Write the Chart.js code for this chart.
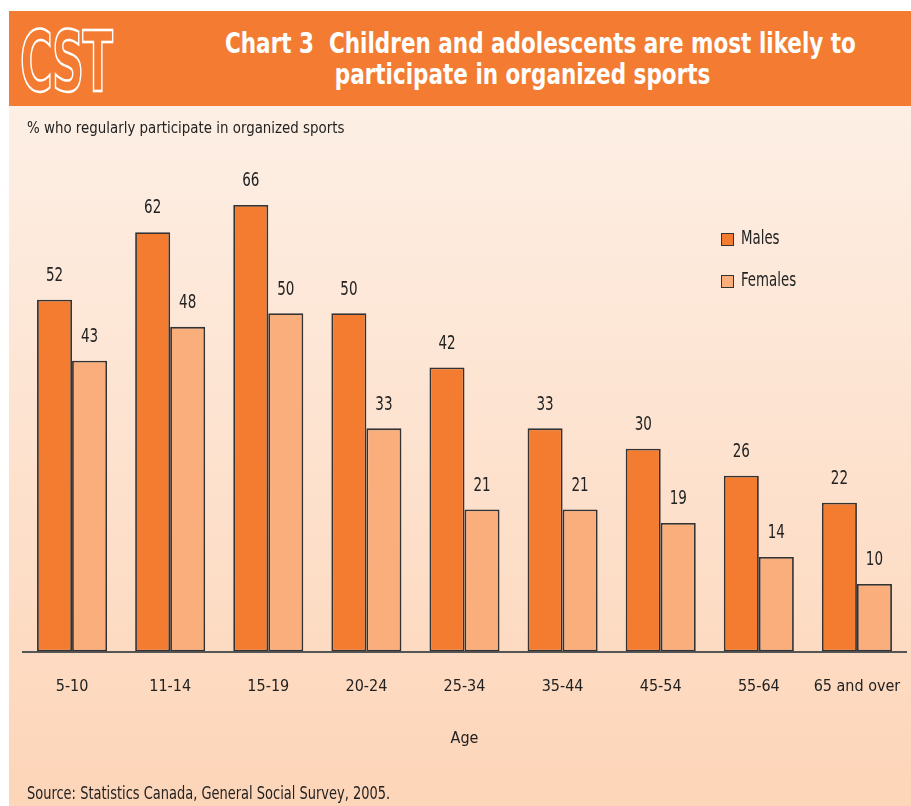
<!DOCTYPE html>
<html>
<head>
<meta charset="utf-8">
<script src="https://cdn.jsdelivr.net/npm/chart.js@4.4.0/dist/chart.umd.min.js"></script>
<style>
  body { margin: 0; background: #fff; width: 911px; height: 806px; overflow: hidden; font-family: "DejaVu Sans Condensed", sans-serif; }
  #panel { position: absolute; left: 9px; top: 11px; width: 902px; height: 795px; background: linear-gradient(#fdefe5 12%, #fdd5b8 100%); }
  #header { position: absolute; left: 0; top: 0; width: 902px; height: 95px; background: #f37c32; }
  #logo { position: absolute; left: 11px; top: 2px; font-family: "DejaVu Sans", sans-serif; font-weight: bold; font-size: 84px; color: transparent; -webkit-text-stroke: 2.5px #fff; transform: scaleX(0.53); transform-origin: left top; letter-spacing: -3px; }
  #title { position: absolute; left: 216px; top: 17px; color: #fff; font-weight: bold; font-size: 29px; line-height: 31px; white-space: nowrap; transform: scaleX(0.825); transform-origin: left top; }
  #title .l2 { padding-left: 133px; }
  #ytitle { position: absolute; left: 18px; top: 107px; font-size: 16px; color: #222; transform: scaleX(0.93); transform-origin: left top; white-space: nowrap; }
  #source { position: absolute; left: 18px; top: 772px; font-size: 17px; color: #222; transform: scaleX(0.85); transform-origin: left top; white-space: nowrap; }
  #legend { position: absolute; left: 712px; top: 219px; font-size: 19px; color: #222; }
  .item { position: relative; height: 42px; }
  .box { position: absolute; left: 0; top: 3px; width: 11px; height: 11px; border: 1.5px solid #333; }
  .lab { position: absolute; left: 20px; top: -4px; transform: scaleX(0.78); transform-origin: left top; white-space: nowrap; }
  #chartWrap { position: absolute; left: 0; top: 95px; width: 902px; height: 700px; }
</style>
</head>
<body>
<div id="panel">
  <div id="header">
    <div id="logo">CST</div>
    <div id="title">Chart 3&nbsp; Children and adolescents are most likely to<br><span class="l2">participate in organized sports</span></div>
  </div>
  <div id="chartWrap"><canvas id="myChart" width="902" height="700"></canvas></div>
  <div id="ytitle">% who regularly participate in organized sports</div>
  <div id="legend"></div>
  <div id="source">Source: Statistics Canada, General Social Survey, 2005.</div>
</div>
<script>
'use strict';

let ageGroups = ['5-10', '11-14', '15-19', '20-24', '25-34', '35-44', '45-54', '55-64', '65 and over'];
let males = [52, 62, 66, 50, 42, 33, 30, 26, 22];
let females = [43, 48, 50, 33, 21, 21, 19, 14, 10];

let maleColor = '#f47c30';
let femaleColor = '#faae7c';
let textColor = '#222';
let fontFamily = '"DejaVu Sans Condensed", sans-serif';

// numbers over each bar, squeezed a bit to look condensed
let valueLabels = {
  id: 'valueLabels',
  afterDatasetsDraw(chart) {
    let ctx = chart.ctx;
    ctx.save();
    ctx.fillStyle = textColor;
    ctx.font = '20px ' + fontFamily;
    ctx.textAlign = 'center';
    ctx.textBaseline = 'middle';
    chart.data.datasets.forEach(function (ds, i) {
      let meta = chart.getDatasetMeta(i);
      meta.data.forEach(function (bar, j) {
        ctx.save();
        ctx.translate(bar.x, bar.y - 24);
        ctx.scale(0.75, 1);
        ctx.fillText(ds.data[j], 0, 0);
        ctx.restore();
      });
    });
    ctx.restore();
  }
};

let ctx = document.getElementById('myChart').getContext('2d');

let myChart = new Chart(ctx, {
  type: 'bar',
  data: {
    labels: ageGroups,
    datasets: [{
      label: 'Males',
      data: males,
      backgroundColor: maleColor,
      borderColor: '#333',
      borderWidth: 1.8,
      borderSkipped: false
    },
    {
      label: 'Females',
      data: females,
      backgroundColor: femaleColor,
      borderColor: '#333',
      borderWidth: 1.8,
      borderSkipped: false
    }]
  },
  options: {
    responsive: false,
    animation: false,
    layout: { padding: { left: 14, right: 5, top: 72, bottom: 58 } },
    datasets: { bar: { categoryPercentage: 0.714, barPercentage: 1 } },
    plugins: {
      legend: { display: false },
      tooltip: { enabled: false }
    },
    scales: {
      x: {
        grid: { display: false, drawTicks: false },
        border: { display: true, color: '#555', width: 2 },
        ticks: { color: textColor, font: { family: fontFamily, size: 16 }, padding: 26, maxRotation: 0, minRotation: 0, autoSkip: false },
        title: { display: true, text: 'Age', color: textColor, font: { family: fontFamily, size: 16 }, padding: { top: 6, bottom: 0 } },
        // the last label fits inside its own category, no extra room needed
        afterFit: function (scale) {
          scale.paddingLeft = 0;
          scale.paddingRight = 0;
        }
      },
      y: {
        display: false,
        min: 0,
        max: 70
      }
    }
  },
  plugins: [valueLabels]
});

// legend drawn beside the bars
let legend = document.getElementById('legend');
myChart.data.datasets.forEach(function (ds) {
  let item = document.createElement('div');
  item.className = 'item';
  item.innerHTML = '<span class="box" style="background:' + ds.backgroundColor + '"></span><span class="lab">' + ds.label + '</span>';
  legend.appendChild(item);
});
</script>
</body>
</html>
